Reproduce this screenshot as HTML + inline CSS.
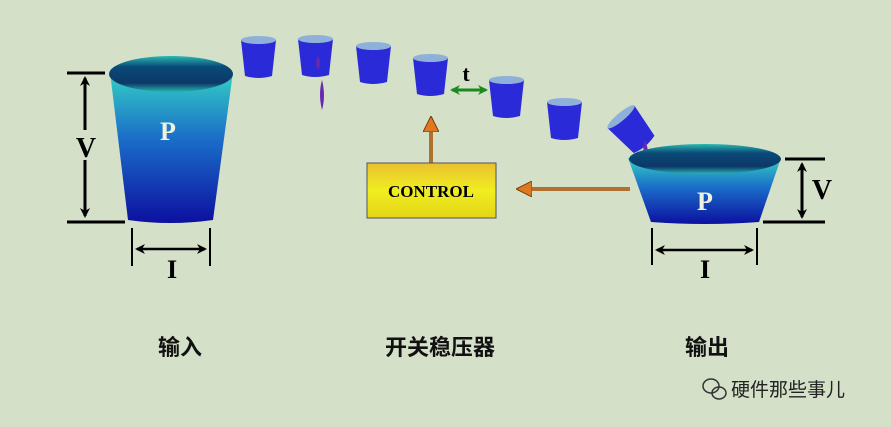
<!DOCTYPE html>
<html><head><meta charset="utf-8"><style>
html,body{margin:0;padding:0;width:891px;height:427px;overflow:hidden;background:#d4e0c8}
</style></head><body>
<svg width="891" height="427" viewBox="0 0 891 427" xmlns="http://www.w3.org/2000/svg" font-family="Liberation Serif, serif">
<defs>
<linearGradient id="bk" x1="0" y1="0" x2="0" y2="1"><stop offset="0" stop-color="#34d0c4"/><stop offset="0.45" stop-color="#1a6cc8"/><stop offset="1" stop-color="#0c10a0"/></linearGradient>
<linearGradient id="top" x1="0" y1="0" x2="0" y2="1"><stop offset="0" stop-color="#2ab8b0"/><stop offset="0.3" stop-color="#0a4a78"/><stop offset="0.75" stop-color="#0c3868"/><stop offset="1" stop-color="#28b4b0"/></linearGradient>
<linearGradient id="ctl" x1="0" y1="0" x2="0" y2="1"><stop offset="0" stop-color="#e8c030"/><stop offset="0.5" stop-color="#f0ee20"/><stop offset="1" stop-color="#e4d418"/></linearGradient>
<marker id="ab" markerWidth="10" markerHeight="10" refX="8" refY="5" orient="auto-start-reverse" markerUnits="userSpaceOnUse"><path d="M0,0 L10,5 L0,10 L3,5 Z" fill="#000"/></marker>
<marker id="ag" markerWidth="10" markerHeight="10" refX="8" refY="5" orient="auto-start-reverse" markerUnits="userSpaceOnUse"><path d="M0,0 L10,5 L0,10 L3,5 Z" fill="#1a8a20"/></marker>
<marker id="ao" markerWidth="16" markerHeight="16" refX="14" refY="8" orient="auto" markerUnits="userSpaceOnUse"><path d="M0,0 L16,8 L0,16 Z" fill="#e07820" stroke="#704010" stroke-width="1"/></marker>
<g id="cup"><path d="M0,4 L35,4 L31,40 Q17,44 4,40 Z" fill="#2a2ad8"/><ellipse cx="17.5" cy="4" rx="17.5" ry="4" fill="#8fb0d8"/></g>
</defs>
<!-- left bucket -->
<path d="M110,72 L233,72 L213,220 Q170,226 128,220 Z" fill="url(#bk)"/>
<ellipse cx="171" cy="74" rx="62" ry="18" fill="url(#top)"/>
<text x="168" y="140" font-size="26" font-weight="bold" fill="#f0f0e0" text-anchor="middle">P</text>
<g stroke="#000" stroke-width="3" fill="none">
<line x1="67" y1="73" x2="105" y2="73"/><line x1="67" y1="222" x2="125" y2="222"/>
<line x1="85" y1="78" x2="85" y2="130" marker-start="url(#ab)"/><line x1="85" y1="160" x2="85" y2="216" marker-end="url(#ab)"/>
<line x1="132" y1="228" x2="132" y2="266" stroke-width="2"/><line x1="210" y1="228" x2="210" y2="266" stroke-width="2"/>
<line x1="137" y1="249" x2="205" y2="249" marker-start="url(#ab)" marker-end="url(#ab)" stroke-width="2.5"/>
</g>
<text x="86" y="157" font-size="28" font-weight="bold" text-anchor="middle">V</text>
<text x="172" y="278" font-size="26" font-weight="bold" text-anchor="middle">I</text>
<!-- cups -->
<use href="#cup" x="241" y="36"/>
<use href="#cup" x="298" y="35"/>
<use href="#cup" x="356" y="42"/>
<use href="#cup" x="413" y="54"/>
<use href="#cup" x="489" y="76"/>
<use href="#cup" x="547" y="98"/>
<use href="#cup" transform="translate(605,125) rotate(-40)"/>
<path d="M322,80 q-4,14 0,30 q4,-14 0,-30Z M318,56 q-4,6 0,14 q4,-6 0,-14Z" fill="#6a28b0"/>
<path d="M645,140 q-4,12 2,24 q3,-12 -2,-24Z" fill="#6a28b0"/>
<line x1="452" y1="90" x2="486" y2="90" stroke="#1a8a20" stroke-width="3" marker-start="url(#ag)" marker-end="url(#ag)"/>
<text x="466" y="81" font-size="22" font-weight="bold" text-anchor="middle">t</text>
<!-- control -->
<line x1="431" y1="163" x2="431" y2="118" stroke="#b07030" stroke-width="4" marker-end="url(#ao)"/>
<line x1="630" y1="189" x2="518" y2="189" stroke="#b07030" stroke-width="4" marker-end="url(#ao)"/>
<rect x="367" y="163" width="129" height="55" fill="url(#ctl)" stroke="#555" stroke-width="1"/>
<text x="431" y="197" font-size="17" font-weight="bold" text-anchor="middle">CONTROL</text>
<!-- right bucket -->
<path d="M628,158 L781,158 L759,222 Q705,226 651,222 Z" fill="url(#bk)"/>
<ellipse cx="705" cy="159" rx="76" ry="15" fill="url(#top)"/>
<text x="705" y="210" font-size="26" font-weight="bold" fill="#f0f0e0" text-anchor="middle">P</text>
<g stroke="#000" stroke-width="3" fill="none">
<line x1="785" y1="159" x2="825" y2="159"/><line x1="763" y1="222" x2="825" y2="222"/>
<line x1="802" y1="164" x2="802" y2="217" marker-start="url(#ab)" marker-end="url(#ab)"/>
<line x1="652" y1="228" x2="652" y2="265" stroke-width="2"/><line x1="757" y1="228" x2="757" y2="265" stroke-width="2"/>
<line x1="657" y1="250" x2="752" y2="250" marker-start="url(#ab)" marker-end="url(#ab)" stroke-width="2.5"/>
</g>
<text x="822" y="199" font-size="28" font-weight="bold" text-anchor="middle">V</text>
<text x="705" y="278" font-size="26" font-weight="bold" text-anchor="middle">I</text>
<g font-family="Liberation Sans, Noto Sans CJK SC, sans-serif" font-size="22" fill="#111" text-anchor="middle" font-weight="bold">
<text x="180" y="355">输入</text>
<text x="440" y="355">开关稳压器</text>
<text x="707" y="355">输出</text>
</g>
<g fill="none" stroke="#333" stroke-width="1.5"><ellipse cx="711" cy="386" rx="8" ry="7"/><ellipse cx="719" cy="393" rx="7" ry="6"/></g>
<text x="731" y="396" font-family="Liberation Sans, Noto Sans CJK SC, sans-serif" font-size="19" fill="#222">硬件那些事儿</text>
</svg>
</body></html>
